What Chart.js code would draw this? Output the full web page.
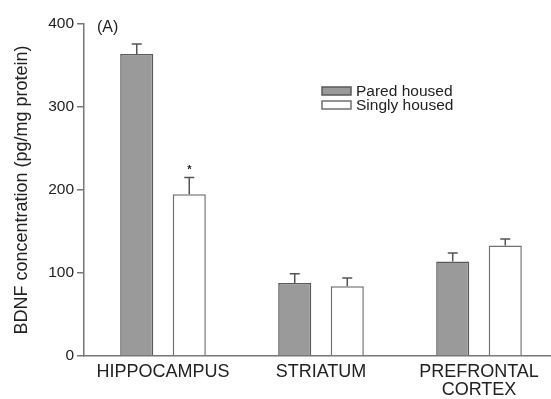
<!DOCTYPE html>
<html>
<head>
<meta charset="utf-8">
<script src="https://cdn.jsdelivr.net/npm/chart.js@4.4.0/dist/chart.umd.min.js"></script>
<style>
    html, body { margin: 0; padding: 0; background: #fff; overflow: hidden; }
</style>
</head>
<body>
<canvas id="bdnfChart" width="558" height="399"></canvas>
<script>
// BDNF theo vùng não, nuôi theo cặp / nuôi đơn lẻ
const regions = ['HIPPOCAMPUS', 'STRIATUM', ['PREFRONTAL', 'CORTEX']];
const pairedValues = [364, 88, 114];
const pairedErrors = [12, 11, 10];
const singlyValues = [195, 84, 133];
const singlyErrors = [20, 10, 8];
const singlyMarks = ['*', '', ''];
const yTicks = [0, 100, 200, 300, 400];

const FONT = '"Liberation Sans", Arial, sans-serif';
const TEXT = '#222';
const AXIS = '#777';

// Vẽ thanh sai số (chỉ nửa trên) và dấu sao
const errorBarPlugin = {
    id: 'errorBars',
    afterDatasetsDraw(chart) {
        const ctx = chart.ctx;
        const yScale = chart.scales.y;
        chart.data.datasets.forEach((ds, i) => {
            const meta = chart.getDatasetMeta(i);
            meta.data.forEach((bar, j) => {
                const v = ds.data[j];
                const top = yScale.getPixelForValue(v + ds.errors[j]);
                const base = yScale.getPixelForValue(v);
                ctx.save();
                ctx.strokeStyle = '#555';
                ctx.lineWidth = 1.5;
                ctx.beginPath();
                ctx.moveTo(bar.x, base);
                ctx.lineTo(bar.x, top);
                ctx.moveTo(bar.x - 5, top);
                ctx.lineTo(bar.x + 5, top);
                ctx.stroke();
                if (ds.marks && ds.marks[j]) {
                    ctx.fillStyle = TEXT;
                    ctx.font = 'bold 11px ' + FONT;
                    ctx.textAlign = 'center';
                    ctx.textBaseline = 'middle';
                    ctx.fillText(ds.marks[j], bar.x, top - 8);
                }
                ctx.restore();
            });
        });
    }
};

// Chú thích và nhãn (A)
const legendPlugin = {
    id: 'boxLegend',
    afterDraw(chart) {
        const ctx = chart.ctx;
        ctx.save();
        ctx.font = '16px ' + FONT;
        ctx.fillStyle = TEXT;
        ctx.textBaseline = 'middle';
        ctx.fillText('(A)', 97, 28);

        ctx.font = '15.5px ' + FONT;
        chart.data.datasets.forEach((ds, i) => {
            const y = 87 + i * 14;
            ctx.fillStyle = ds.backgroundColor;
            ctx.strokeStyle = ds.borderColor;
            ctx.lineWidth = 1.5;
            ctx.fillRect(322, y, 29, 8);
            ctx.strokeRect(322, y, 29, 8);
            ctx.fillStyle = TEXT;
            ctx.fillText(ds.label, 356, y + 4.5);
        });
        ctx.restore();
    }
};

new Chart(document.getElementById('bdnfChart').getContext('2d'), {
    type: 'bar',
    data: {
        labels: regions,
        datasets: [{
            label: 'Pared housed',
            data: pairedValues,
            errors: pairedErrors,
            backgroundColor: '#9a9a9a',
            borderColor: '#5a5a5a',
            borderWidth: 1.5
        }, {
            label: 'Singly housed',
            data: singlyValues,
            errors: singlyErrors,
            marks: singlyMarks,
            backgroundColor: '#ffffff',
            borderColor: '#707070',
            borderWidth: 1.5
        }]
    },
    options: {
        responsive: false,
        animation: false,
        layout: { padding: { top: 24, right: 0, left: 0, bottom: 0 } },
        datasets: {
            bar: { categoryPercentage: 0.665, barPercentage: 0.63 }
        },
        plugins: {
            legend: { display: false },
            tooltip: { enabled: false }
        },
        scales: {
            x: {
                grid: { display: false, drawTicks: false },
                border: { display: true, color: AXIS, width: 1.5 },
                ticks: {
                    color: TEXT,
                    padding: 7,
                    maxRotation: 0,
                    font: { family: FONT, size: 18, lineHeight: 1.0 }
                },
                afterFit: s => { s.height = 43; }
            },
            y: {
                min: 0,
                max: 400,
                afterBuildTicks: s => { s.ticks = yTicks.map(v => ({ value: v })); },
                grid: { drawOnChartArea: false, color: AXIS, tickLength: 7, lineWidth: 1.5 },
                border: { display: true, color: AXIS, width: 1.5 },
                ticks: {
                    color: TEXT,
                    padding: 3,
                    font: { family: FONT, size: 15.5 }
                },
                title: {
                    display: true,
                    text: 'BDNF concentration (pg/mg protein)',
                    color: TEXT,
                    padding: { top: 11, bottom: 0 },
                    font: { family: FONT, size: 18 }
                },
                afterFit: s => { s.width = 84; }
            }
        }
    },
    plugins: [errorBarPlugin, legendPlugin]
});
</script>
</body>
</html>
